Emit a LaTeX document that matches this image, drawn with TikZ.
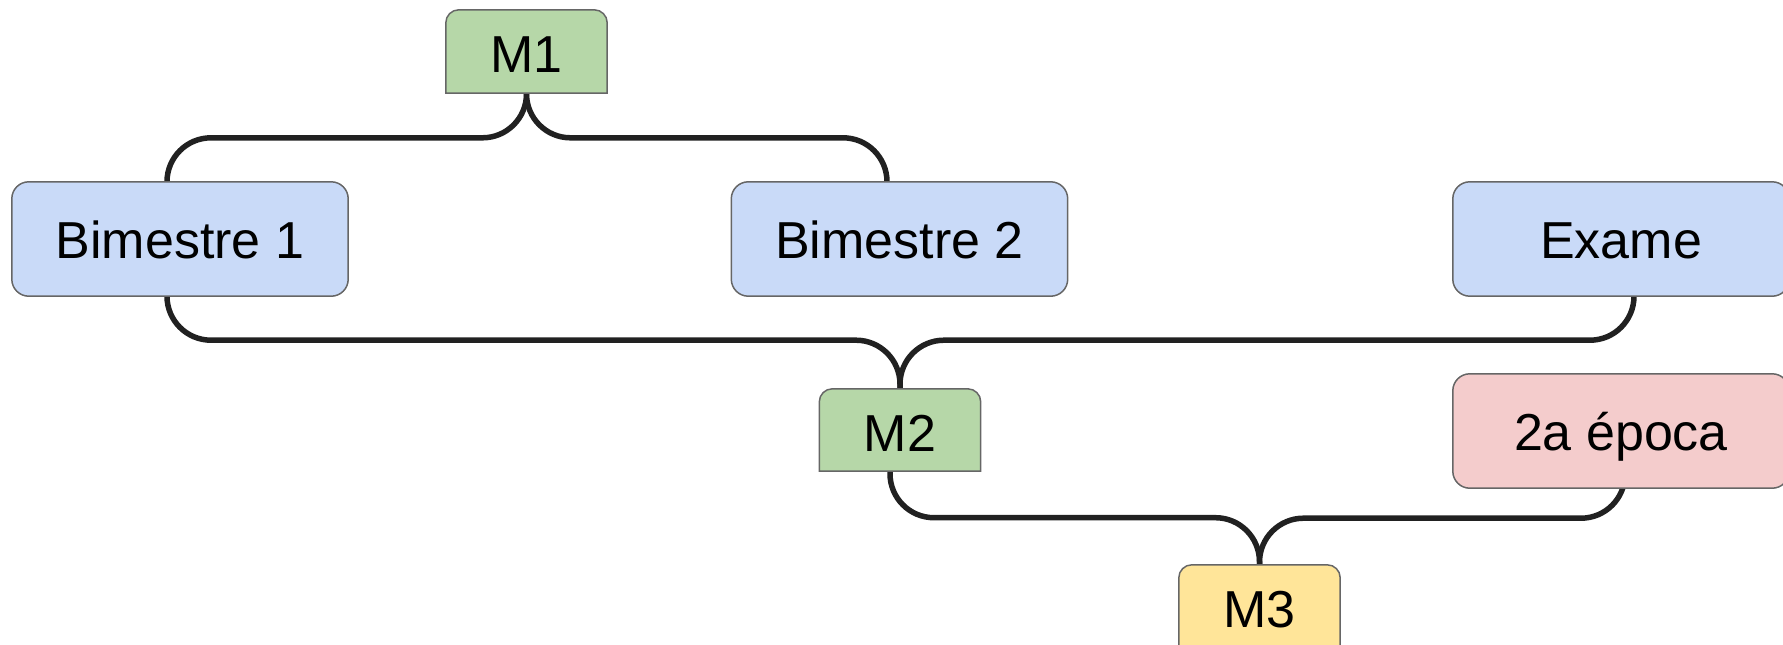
\documentclass[tikz,border=0pt]{standalone}
\usepackage{fontspec}
\setmainfont{Liberation Sans}
\definecolor{cgreen}{HTML}{B6D7A8}
\definecolor{cblue}{HTML}{C9DAF8}
\definecolor{cpink}{HTML}{F4CCCC}
\definecolor{cyellow}{HTML}{FFE599}
\definecolor{cborder}{HTML}{666666}
\definecolor{cline}{HTML}{212121}
\pgfdeclarelayer{conn}
\pgfdeclarelayer{boxes}
\pgfsetlayers{conn,boxes,main}
\begin{document}
\begin{tikzpicture}[x=1pt,y=-1pt]
\tikzset{
  lbl/.style={draw=none, fill=none, inner sep=0pt, anchor=center, font=\fontsize{52}{60}\selectfont},
  bigbox/.style={lbl, minimum width=336pt, minimum height=114pt, text height=38pt, text depth=0pt},
  smallbox/.style={lbl, minimum width=161pt, minimum height=83pt, text height=42pt, text depth=0pt},
  boxline/.style={draw=cborder, line width=1.5pt},
  connector/.style={draw=cline, line width=5.5pt, rounded corners=44pt},
}
\useasboundingbox (0,0) rectangle (1783,645);

\node[smallbox] (m1) at (526.5,51.5) {M1};
\node[bigbox] (b1) at (180,239) {Bimestre 1};
\node[bigbox] (b2) at (899.5,239) {Bimestre 2};
\node[bigbox] (ex) at (1621,239) {Exame};
\node[smallbox, minimum height=82pt] (m2) at (900,430) {M2};
\node[bigbox] (ep) at (1621,431) {2a época};
\node[smallbox] (m3) at (1259.5,606.5) {M3};

\begin{pgfonlayer}{boxes}
\foreach \n/\c in {m1/cgreen,m2/cgreen,m3/cyellow}{
  \draw[boxline, fill=\c] (\n.south west) -- ([yshift=-13pt]\n.north west)
    arc[start angle=180, end angle=90, radius=13pt] -- ([xshift=-13pt]\n.north east)
    arc[start angle=90, end angle=0, radius=13pt] -- (\n.south east) -- cycle;
}
\foreach \n/\c in {b1/cblue,b2/cblue,ex/cblue,ep/cpink}{
  \draw[boxline, fill=\c, rounded corners=17pt] (\n.south west) rectangle (\n.north east);
}
\end{pgfonlayer}

\begin{pgfonlayer}{conn}
\draw[connector] (m1.south) -- ++(0,44.6) -| ([xshift=-13pt]b1.north);
\draw[connector] (m1.south) -- ++(0,44.6) -| ([xshift=-12.5pt]b2.north);
\draw[connector] ([xshift=-13pt]b1.south) -- ++(0,44) -| (m2.north);
\draw[connector] ([xshift=13pt]ex.south) -- ++(0,44) -| (m2.north);
\draw[connector] ([xshift=-10pt]m2.south) -- ++(0,46.5) -| (m3.north);
\draw[connector] ([xshift=4pt,yshift=14pt]ep.south) -- ++(0,44) -| (m3.north);
\end{pgfonlayer}
\end{tikzpicture}
\end{document}
